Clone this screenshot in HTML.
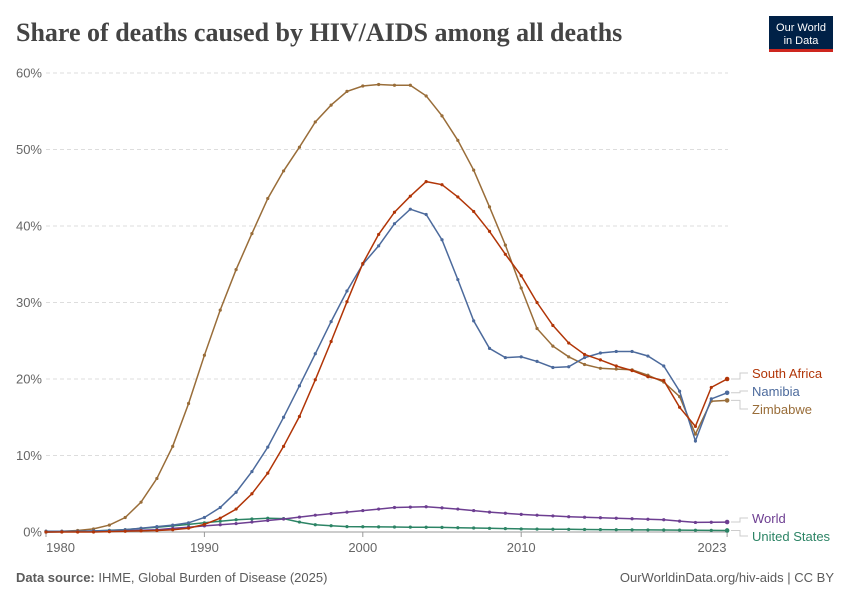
<!DOCTYPE html>
<html><head><meta charset="utf-8"><style>
body{margin:0;width:850px;height:600px;background:#fff;font-family:"Liberation Sans",sans-serif;overflow:hidden}
</style></head><body>
<svg width="850" height="600" xmlns="http://www.w3.org/2000/svg" id="s">
<text x="16" y="41" font-family="Liberation Serif,serif" font-size="26" font-weight="bold" fill="#444">Share of deaths caused by HIV/AIDS among all deaths</text>
<rect x="769" y="16" width="64" height="36" fill="#002147"/>
<rect x="769" y="49" width="64" height="3" fill="#ce261e"/>
<text x="801" y="31" font-size="11" fill="#fff" text-anchor="middle">Our World</text>
<text x="801" y="44" font-size="11" fill="#fff" text-anchor="middle">in Data</text>
<g id="grid"></g>
<g id="series"></g>
<text x="16" y="582" font-size="13" fill="#5b5b5b"><tspan font-weight="bold">Data source:</tspan> IHME, Global Burden of Disease (2025)</text>
<text x="834" y="582" font-size="13" fill="#5b5b5b" text-anchor="end">OurWorldinData.org/hiv-aids | CC BY</text>
</svg>
<script>
const NS="http://www.w3.org/2000/svg";
const X=y=>46+(y-1980)*15.84, Y=v=>532-v*7.65;
const g=document.getElementById('grid'), s=document.getElementById('series');
function el(p,t,a,txt){const e=document.createElementNS(NS,t);for(const k in a)e.setAttribute(k,a[k]);if(txt)e.textContent=txt;p.appendChild(e);return e}
for(let v=0;v<=60;v+=10){const y=Y(v);
 if(v>0)el(g,'line',{x1:46,x2:728,y1:y,y2:y,stroke:'#ddd','stroke-dasharray':'4,3'});
 else el(g,'line',{x1:46,x2:728,y1:y,y2:y,stroke:'#999'});
 el(g,'text',{x:42,y:y+4.5,'font-size':13,fill:'#666','text-anchor':'end'},v+'%');}
[[1980,'start',46],[1990,'middle',X(1990)],[2000,'middle',X(2000)],[2010,'middle',X(2010)],[2023,'middle',712]].forEach(([yr,a,x])=>{
 el(g,'line',{x1:X(yr),x2:X(yr),y1:532,y2:537,stroke:'#999'});
 el(g,'text',{x:x,y:552,'font-size':13,fill:'#666','text-anchor':a},yr);});
function interp(pts){const out=[];for(let y=1980;y<=2023;y++){let i=0;while(i<pts.length-1&&pts[i+1][0]<y)i++;const a=pts[i],b=pts[Math.min(i+1,pts.length-1)];const t=b[0]==a[0]?0:(y-a[0])/(b[0]-a[0]);out.push(a[1]+(b[1]-a[1])*Math.max(0,Math.min(1,t)))}return out}
const zw=[0.1,0.1,0.2,0.4,0.9,1.9,3.9,7,11.2,16.8,23.1,29,34.3,39,43.6,47.2,50.3,53.6,55.8,57.6,58.3,58.5,58.4,58.4,57,54.4,51.2,47.3,42.5,37.5,31.9,26.6,24.3,22.9,21.9,21.4,21.3,21.2,20.5,19.6,17.7,12.8,17.1,17.2];
const za=[0,0,0,0,0.05,0.1,0.15,0.2,0.3,0.5,1.0,1.8,3.0,5,7.7,11.2,15.1,19.9,24.9,30.1,35.1,38.9,41.8,43.9,45.8,45.4,43.8,41.9,39.3,36.3,33.5,30,27,24.7,23.2,22.5,21.7,21.1,20.3,19.8,16.3,13.8,18.9,20];
const na=[0.1,0.1,0.1,0.15,0.2,0.3,0.5,0.7,0.9,1.2,1.9,3.2,5.2,7.9,11.1,15,19.1,23.3,27.5,31.5,35,37.4,40.3,42.2,41.5,38.2,33,27.6,24,22.8,22.9,22.3,21.5,21.6,22.8,23.4,23.6,23.6,23,21.7,18.4,11.9,17.4,18.2];
const wo=interp([[1980,0],[1984,0.1],[1987,0.3],[1990,0.8],[1992,1.1],[1994,1.5],[1995,1.7],[1997,2.2],[2000,2.8],[2002,3.2],[2004,3.3],[2006,3.0],[2008,2.6],[2010,2.3],[2013,2.0],[2016,1.8],[2019,1.6],[2021,1.25],[2023,1.3]]);
const us=interp([[1980,0],[1982,0.05],[1985,0.3],[1988,0.8],[1990,1.2],[1992,1.6],[1994,1.8],[1995,1.75],[1996,1.3],[1997,0.95],[1999,0.7],[2005,0.6],[2010,0.4],[2016,0.3],[2023,0.2]]);
const ser=[[us,'#2c8465'],[wo,'#6d3e91'],[zw,'#996d39'],[na,'#4c6a9c'],[za,'#b13507']];
ser.forEach(([d,c])=>{let p=d.map((v,i)=>X(1980+i).toFixed(1)+','+Y(v).toFixed(1)).join(' ');
 el(s,'polyline',{points:p,fill:'none',stroke:c,'stroke-width':1.5});
 d.forEach((v,i)=>el(s,'circle',{cx:X(1980+i),cy:Y(v),r:1.6,fill:c}));
 el(s,'circle',{cx:X(2023),cy:Y(d[43]),r:2.3,fill:c});});
const labs=[['South Africa','#b13507',373,Y(20)],['Namibia','#4c6a9c',391,Y(18.2)],['Zimbabwe','#996d39',409,Y(17.2)],['World','#6d3e91',518,Y(1.3)],['United States','#2c8465',536,Y(0.2)]];
labs.forEach(([t,c,ly,dy])=>{el(s,'polyline',{points:`731,${dy} 740,${dy} 740,${ly} 748,${ly}`,fill:'none',stroke:'#ccc'});
 el(s,'text',{x:752,y:ly+5,'font-size':13,fill:c},t)});
</script>
</body></html>
